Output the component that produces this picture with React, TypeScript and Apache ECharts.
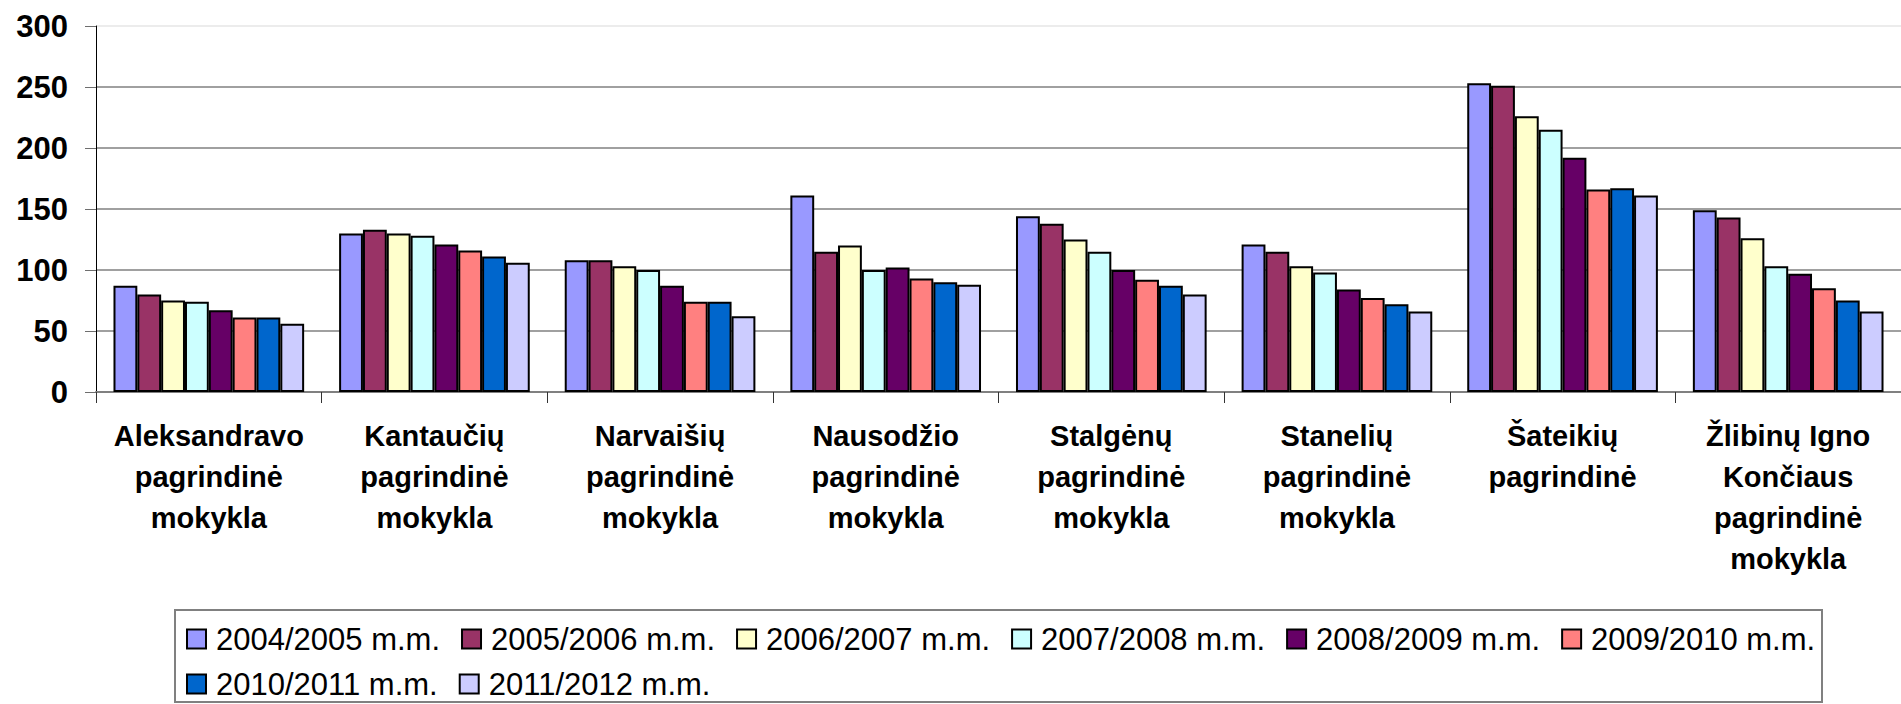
import React, { useEffect, useRef } from "react";
import * as echarts from "echarts";

const categories = [
  "Aleksandravo\npagrindinė\nmokykla",
  "Kantaučių\npagrindinė\nmokykla",
  "Narvaišių\npagrindinė\nmokykla",
  "Nausodžio\npagrindinė\nmokykla",
  "Stalgėnų\npagrindinė\nmokykla",
  "Stanelių\npagrindinė\nmokykla",
  "Šateikių\npagrindinė",
  "Žlibinų Igno\nKončiaus\npagrindinė\nmokykla",
];

const seriesNames = [
  "2004/2005 m.m.",
  "2005/2006 m.m.",
  "2006/2007 m.m.",
  "2007/2008 m.m.",
  "2008/2009 m.m.",
  "2009/2010 m.m.",
  "2010/2011 m.m.",
  "2011/2012 m.m.",
];

const y2004 = [87, 130, 108, 161, 144, 121, 253, 149];
const y2005 = [80, 133, 108, 115, 138, 115, 251, 143];
const y2006 = [75, 130, 103, 120, 125, 103, 226, 126];
const y2007 = [74, 128, 100, 100, 115, 98, 215, 103];
const y2008 = [67, 121, 87, 102, 100, 84, 192, 97];
const y2009 = [61, 116, 74, 93, 92, 77, 166, 85];
const y2010 = [61, 111, 74, 90, 87, 72, 167, 75];
const y2011 = [56, 106, 62, 88, 80, 66, 161, 66];

const seriesValues = [y2004, y2005, y2006, y2007, y2008, y2009, y2010, y2011];

const colors = [
  "#9999FF",
  "#993366",
  "#FFFFCC",
  "#CCFFFF",
  "#660066",
  "#FF8080",
  "#0066CC",
  "#CCCCFF",
];

const yTicks = { min: 0, max: 300, interval: 50 };

const FONT = '"Liberation Sans", Arial, sans-serif';

export default function App() {
  const ref = useRef<HTMLDivElement>(null);

  useEffect(() => {
    if (!ref.current) return;
    const chart = echarts.init(ref.current, null, { renderer: "svg" });
    const legendText = {
      fontFamily: FONT,
      fontSize: 31,
      color: "#000",
      lineHeight: 36,
      padding: [0, 0, 0, 5],
    };
    chart.setOption({
      animation: false,
      backgroundColor: "#fff",
      textStyle: { fontFamily: FONT },
      grid: { left: 96, right: 0, top: 26, bottom: 312, containLabel: false },
      xAxis: {
        type: "category",
        data: categories,
        axisLine: { show: true, lineStyle: { color: "#808080", width: 2 } },
        axisTick: {
          show: true,
          alignWithLabel: false,
          length: 11,
          lineStyle: { color: "#333", width: 1 },
        },
        axisLabel: {
          interval: 0,
          margin: 23,
          fontFamily: FONT,
          fontSize: 29,
          fontWeight: "bold",
          lineHeight: 41,
          color: "#000",
          align: "center",
        },
        splitLine: { show: false },
      },
      yAxis: {
        type: "value",
        min: yTicks.min,
        max: yTicks.max,
        interval: yTicks.interval,
        axisLine: { show: true, lineStyle: { color: "#000", width: 1 } },
        axisTick: { show: true, length: 11, lineStyle: { color: "#6e6e6e", width: 1 } },
        axisLabel: {
          margin: 28,
          fontFamily: FONT,
          fontSize: 31,
          fontWeight: "bold",
          color: "#000",
        },
        splitLine: {
          show: true,
          lineStyle: {
            color: ["#808080", "#808080", "#808080", "#808080", "#808080", "#808080", "#e6e6e6"],
            width: 1.5,
          },
        },
      },
      legend: [
        {
          data: seriesNames.slice(0, 6),
          left: 186,
          top: 621,
          orient: "horizontal",
          padding: 0,
          itemWidth: 19,
          itemHeight: 19,
          itemGap: 21,
          icon: "rect",
          textStyle: legendText,
          selectedMode: false,
        },
        {
          data: seriesNames.slice(6),
          left: 186,
          top: 666,
          orient: "horizontal",
          padding: 0,
          itemWidth: 19,
          itemHeight: 19,
          itemGap: 21,
          icon: "rect",
          textStyle: legendText,
          selectedMode: false,
        },
      ],
      graphic: [
        {
          type: "rect",
          shape: { x: 175, y: 610, width: 1647, height: 92 },
          style: { fill: "none", stroke: "#808080", lineWidth: 2 },
          silent: true,
        },
      ],
      series: seriesNames.map((name, i) => ({
        name,
        type: "bar",
        data: seriesValues[i],
        barGap: "0%",
        barCategoryGap: "15.5%",
        itemStyle: { color: colors[i], borderColor: "#000", borderWidth: 2 },
        emphasis: { disabled: true },
      })),
    });
    return () => chart.dispose();
  }, []);

  return (
    <div
      ref={ref}
      style={{ position: "absolute", left: 0, top: 0, width: 1901, height: 704 }}
    />
  );
}
